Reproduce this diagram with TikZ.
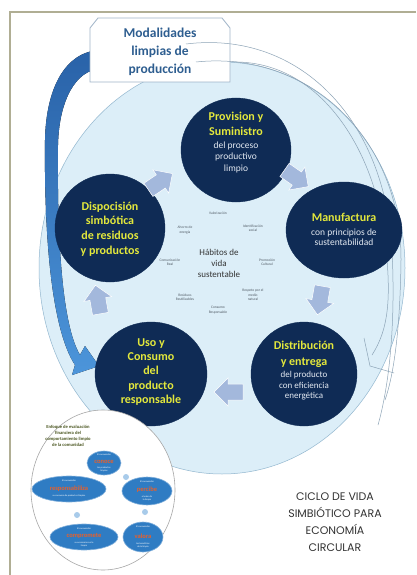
\documentclass[tikz,border=0pt]{standalone}
\usepackage{fontspec}
\setmainfont{Carlito}
\newfontfamily\gothfont{Poppins}
\usetikzlibrary{shapes.geometric}
\definecolor{navy}{HTML}{0F2B55}
\definecolor{ylw}{HTML}{E3E83C}
\definecolor{subw}{HTML}{E4EAF2}
\definecolor{paleblue}{HTML}{DCEEF8}
\definecolor{paleedge}{HTML}{93B7CF}
\definecolor{arrc}{HTML}{A3B8DC}
\definecolor{frame}{HTML}{B0AE94}
\definecolor{boxtxt}{HTML}{2E5E90}
\definecolor{boxedge}{HTML}{A0B4C8}
\definecolor{blueA}{HTML}{2962A8}
\definecolor{blueB}{HTML}{4C95DA}
\definecolor{thinc}{HTML}{8CA3B6}
\definecolor{ovalb}{HTML}{2F7CC3}
\definecolor{orng}{HTML}{E8602A}
\definecolor{sdotc}{HTML}{A8CBEA}
\definecolor{olivet}{HTML}{4A5620}
\definecolor{labgray}{HTML}{505A64}
\begin{document}
\begin{tikzpicture}[x=1pt,y=-1pt,
  stagec/.style={ellipse, fill=navy, draw=navy, inner sep=0pt},
  ttlt/.style={font=\bfseries\fontsize{12}{15}\selectfont, text=ylw, align=center, inner sep=0pt},
  subt/.style={font=\fontsize{9.5}{11}\selectfont, text=subw, align=center, inner sep=0pt},
  cyca/.pic={\fill[arrc, draw=white, line width=0.5pt] (-14,-8) -- (1,-8) -- (1,-14) -- (15,0) -- (1,14) -- (1,8) -- (-14,8) -- cycle;},
  minil/.style={font=\fontsize{3.6}{4.3}\selectfont, text=labgray, align=center, inner sep=0pt},
  ovalc/.style={ellipse, fill=ovalb, draw=ovalb!60!white, line width=0.6pt, inner sep=0pt},
  ovword/.style={font=\bfseries\fontsize{6.5}{7}\selectfont, text=orng, inner sep=0pt},
  ovsmall/.style={font=\fontsize{2.4}{2.9}\selectfont, text=white, align=center, inner sep=0pt},
  sdot/.style={circle, fill=sdotc, inner sep=0pt, minimum size=6pt},
  thinline/.style={draw=thinc, line width=0.5pt}
]
\useasboundingbox (0,0) rectangle (416,575);
\fill[white] (0,0) rectangle (416,575);
% frame
\draw[frame, line width=1.4pt] (10,575) -- (10,12) -- (416,12);
% big pale ellipse
\node[ellipse, fill=paleblue, draw=paleedge, line width=0.5pt, minimum width=366pt, minimum height=412pt, inner sep=0pt] (big) at (222,268) {};
% blue curved arrow
\fill[top color=blueA, bottom color=blueB]
  (100,50) .. controls (64,52) and (46,90) .. (45,140)
  .. controls (44,240) and (52,330) .. (75,365)
  -- (72,375) -- (99,366) -- (85,346) -- (80,355)
  .. controls (62,325) and (57,240) .. (58,145)
  .. controls (59,100) and (76,70) .. (100,69) -- cycle;
% box
\draw[boxedge, fill=white, line width=0.8pt] (90,28) -- (98,18) -- (222,18) -- (230,28) -- (230,82) -- (90,82) -- cycle;
\node[font=\bfseries\fontsize{13.5}{18}\selectfont, text=boxtxt, align=center, inner sep=0pt] (modal) at (160,52) {Modalidades\\limpias de\\producción};
% decorative thin curves
\draw[thinline] (186,44) .. controls (300,30) and (385,120) .. (392,250) .. controls (396,330) and (388,390) .. (378,425);
\draw[thinline] (196,62) .. controls (310,50) and (402,140) .. (401,260) .. controls (400,340) and (392,380) .. (385,400);
\draw[thinline] (232,62) .. controls (320,60) and (375,150) .. (385,240) .. controls (392,300) and (388,330) .. (372,355);
\draw[thinline] (364,338) -- (370,366) -- (394,373);
% stages
\node[stagec, minimum width=110pt, minimum height=104pt] (prov) at (236,150) {};
\node[ttlt] (provT) at (236,124) {Provision y\\Suministro};
\node[subt, font=\fontsize{9.5}{11.5}\selectfont] (provS) at (236,157) {del proceso\\productivo\\limpio};

\node[stagec, minimum width=116pt, minimum height=96pt] (manu) at (344,230) {};
\node[ttlt] (manuT) at (344,217) {Manufactura};
\node[subt, font=\fontsize{9.5}{10.5}\selectfont] (manuS) at (344,237) {con principios de\\sustentabilidad};

\node[stagec, minimum width=106pt, minimum height=104pt] (dist) at (304,374) {};
\node[ttlt, font=\bfseries\fontsize{12}{16}\selectfont] (distT) at (304,354) {Distribución\\y entrega};
\node[subt, font=\fontsize{9}{10.5}\selectfont] (distS) at (304,386) {del producto\\con eficiencia\\energética};

\node[stagec, minimum width=112pt, minimum height=104pt] (uso) at (151,374) {};
\node[ttlt, font=\bfseries\fontsize{12}{14.3}\selectfont] (usoT) at (151,372) {Uso y\\Consumo\\del\\producto\\responsable};

\node[stagec, minimum width=110pt, minimum height=108pt] (disp) at (110,228) {};
\node[ttlt, font=\bfseries\fontsize{12}{14.7}\selectfont] (dispT) at (110,229) {Dispocisión\\simbótica\\de residuos\\y productos};

% cycle arrows
\pic[rotate=34] (a1) at (160,182) {cyca};
\pic[rotate=-35] (a2) at (296,178) {cyca};
\pic[rotate=-100] (a3) at (320,300) {cyca};
\pic[rotate=180] (a4) at (229,392) {cyca};
\pic[rotate=100] (a5) at (98,300) {cyca};

% centre
\node[font=\fontsize{9}{11}\selectfont, text=black!80, align=center, inner sep=0pt] (hab) at (219,263) {Hábitos de\\vida\\sustentable};
\node[minil] (l1) at (218,213) {Valorización};
\node[minil] (l2) at (185,230) {Ahorro de\\energía};
\node[minil] (l3) at (253,228) {Identificación\\social};
\node[minil] (l4) at (170,262) {Comunicación\\Real};
\node[minil] (l5) at (267,262) {Promoción\\Cultural};
\node[minil] (l6) at (185,297) {Residuos\\Reutilizables};
\node[minil] (l7) at (253,295) {Respeto por el\\medio\\natural};
\node[minil] (l8) at (218,310) {Consumo\\Responsable};

% bottom-left panel
\node[ellipse, fill=white, draw=gray!70, line width=0.6pt, minimum width=144pt, minimum height=160pt, inner sep=0pt] (panel) at (103,490) {};
\node[font=\bfseries\fontsize{4.6}{6.2}\selectfont, text=olivet, align=center, inner sep=0pt] (ptitle) at (68,436) {Enfoque de evaluación\\financiera del\\comportamiento limpio\\de la comunidad};
\node[sdot] (d1) at (126,477) {};
\node[sdot] (d2) at (145,512) {};
\node[sdot] (d3) at (77,515) {};
\node[ovalc, minimum width=34pt, minimum height=24pt] (o1) at (104,463) {};
\node[ovsmall] (o1a) at (104,455) {El consumidor};
\node[ovword] (o1b) at (104,462) {conoce};
\node[ovsmall] (o1c) at (104,469) {los productos\\limpios};
\node[ovalc, minimum width=74pt, minimum height=26pt] (o2) at (69,489) {};
\node[ovsmall] (o2a) at (69,481) {El consumidor};
\node[ovword] (o2b) at (69,489) {responsabiliza};
\node[ovsmall] (o2c) at (69,496) {su consumo de productos limpios};
\node[ovalc, minimum width=50pt, minimum height=28pt] (o3) at (147,491) {};
\node[ovsmall] (o3a) at (147,482) {El consumidor};
\node[ovword] (o3b) at (147,490) {percibe};
\node[ovsmall] (o3c) at (147,498) {el valor de\\lo limpio};
\node[ovalc, minimum width=68pt, minimum height=26pt] (o4) at (84,537) {};
\node[ovsmall] (o4a) at (84,529) {El consumidor};
\node[ovword] (o4b) at (84,536) {compromete};
\node[ovsmall] (o4c) at (84,544) {su economía con lo\\limpio};
\node[ovalc, minimum width=40pt, minimum height=30pt] (o5) at (143,537) {};
\node[ovsmall] (o5a) at (143,527) {El consumidor};
\node[ovword] (o5b) at (143,536) {valora};
\node[ovsmall] (o5c) at (143,545) {los beneficios\\de lo limpio};

% title
\node[font=\gothfont\fontsize{11}{17}\selectfont, text=black!80, align=center, inner sep=0pt] (title) at (335,522) {CICLO DE VIDA\\SIMBIÓTICO PARA\\ECONOMÍA\\CIRCULAR};
\end{tikzpicture}
\end{document}
